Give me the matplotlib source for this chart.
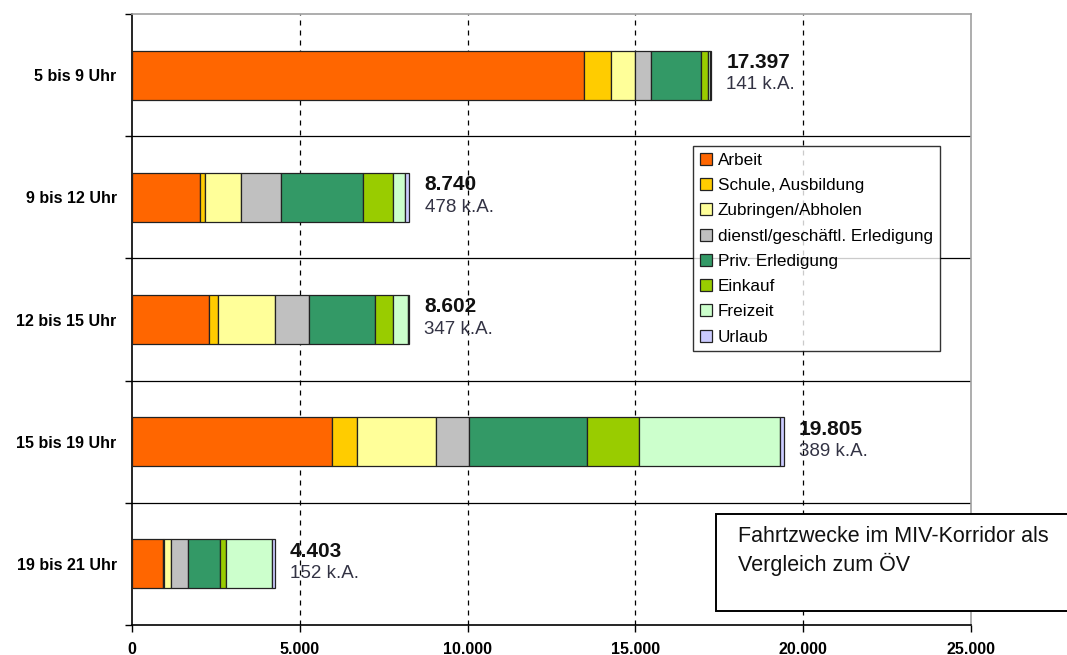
#!/usr/bin/env python3
# coding: utf-8

import matplotlib
matplotlib.use('Agg')
import matplotlib.pyplot as plt
from matplotlib.patches import Rectangle

plt.rcParams['font.family'] = ['Liberation Sans', 'DejaVu Sans']

# Zeitfenster (von oben nach unten)
zeitfenster = ['5 bis 9 Uhr', '9 bis 12 Uhr', '12 bis 15 Uhr',
               '15 bis 19 Uhr', '19 bis 21 Uhr']

zwecke = ['Arbeit', 'Schule, Ausbildung', 'Zubringen/Abholen',
          'dienstl/geschäftl. Erledigung', 'Priv. Erledigung',
          'Einkauf', 'Freizeit', 'Urlaub']

farben = ['#FF6600', '#FFCC00', '#FFFF99', '#C0C0C0',
          '#339966', '#99CC00', '#CCFFCC', '#CCCCFF']

# Fahrten je Zweck und Zeitfenster
arbeit = [13465, 2027, 2305, 5972, 912]
schule = [796, 138, 247, 736, 42]
zubringen = [736, 1085, 1712, 2344, 197]
dienstlich = [456, 1181, 1001, 984, 519]
privat = [1500, 2456, 1968, 3530, 954]
einkauf = [209, 883, 558, 1538, 167]
freizeit = [71, 358, 426, 4204, 1371]
urlaub = [23, 134, 38, 108, 89]

# Fahrten ohne Angabe des Zwecks
keine_angabe = [141, 478, 347, 389, 152]

serien = [arbeit, schule, zubringen, dienstlich, privat,
          einkauf, freizeit, urlaub]


def tausender(v):
    return f'{int(round(v)):,}'.replace(',', '.')


def main():
    fig = plt.figure(figsize=(10.67, 6.55), dpi=100)
    ax = fig.add_axes([132 / 1067, 30 / 655, 839 / 1067, 611 / 655])

    y = list(range(len(zeitfenster)))
    links = [0] * len(zeitfenster)
    for werte, name, farbe in zip(serien, zwecke, farben):
        ax.barh(y, werte, left=links, height=0.4, color=farbe,
                edgecolor='#222222', linewidth=0.9, label=name, zorder=3)
        links = [a + b for a, b in zip(links, werte)]

    # Gesamtzahl (inkl. k.A.) und k.A. neben jedem Balken
    for i, ende in enumerate(links):
        gesamt = ende + keine_angabe[i]
        ax.annotate(tausender(gesamt), xy=(ende, i), xytext=(11, 9),
                    textcoords='offset points', ha='left', va='center',
                    fontsize=15, fontweight='bold', color='#111111',
                    zorder=4)
        ax.annotate(f'{keine_angabe[i]} k.A.', xy=(ende, i), xytext=(11, -7),
                    textcoords='offset points', ha='left', va='center',
                    fontsize=13.5, color='#333344', zorder=4)

    ax.set_xlim(0, 25000)
    ax.set_ylim(len(zeitfenster) - 0.5, -0.5)

    ax.set_xticks(range(0, 25001, 5000))
    ax.set_xticklabels([tausender(v) for v in range(0, 25001, 5000)],
                       fontweight='bold', fontsize=11.5)
    ax.tick_params(axis='x', direction='out', length=5, width=1,
                   pad=7, color='black')

    ax.set_yticks(y)
    ax.set_yticklabels(zeitfenster, fontweight='bold', fontsize=11.5)
    ax.tick_params(axis='y', which='major', length=0, pad=11)
    ax.set_yticks([i - 0.5 for i in range(len(zeitfenster) + 1)], minor=True)
    ax.tick_params(axis='y', which='minor', direction='out', length=5,
                   width=1, color='black')

    for xv in range(5000, 25000, 5000):
        ax.axvline(xv, color='black', linewidth=0.9, linestyle=(0, (4, 4)),
                   zorder=1)
    for yv in range(len(zeitfenster) - 1):
        ax.axhline(yv + 0.5, color='black', linewidth=0.9, zorder=1)

    ax.spines['left'].set_color('black')
    ax.spines['bottom'].set_color('black')
    ax.spines['top'].set_color('#A0A0A0')
    ax.spines['right'].set_color('#A0A0A0')
    for s in ax.spines.values():
        s.set_linewidth(1.2)

    leg = ax.legend(loc='upper left',
                    bbox_to_anchor=(693 / 1067, 1 - 146 / 655),
                    bbox_transform=fig.transFigure, borderaxespad=0,
                    frameon=True, fancybox=False, fontsize=12.3,
                    handlelength=0.7, handleheight=0.7, handletextpad=0.35,
                    labelspacing=0.6, borderpad=0.4)
    leg.get_frame().set_edgecolor('black')
    leg.get_frame().set_linewidth(1.0)
    leg.set_zorder(5)

    # Hinweisbox unten rechts
    box = Rectangle((716 / 1067, 44 / 655), 400 / 1067, 97 / 655,
                    transform=fig.transFigure, facecolor='white',
                    edgecolor='black', linewidth=1.4, clip_on=False)
    fig.add_artist(box)
    fig.text(738 / 1067, 1 - 526 / 655,
             'Fahrtzwecke im MIV-Korridor als\nVergleich zum ÖV',
             ha='left', va='top', fontsize=15.5, color='#111111',
             linespacing=1.35)

    fig.savefig('out.png', dpi=100)


if __name__ == '__main__':
    main()
